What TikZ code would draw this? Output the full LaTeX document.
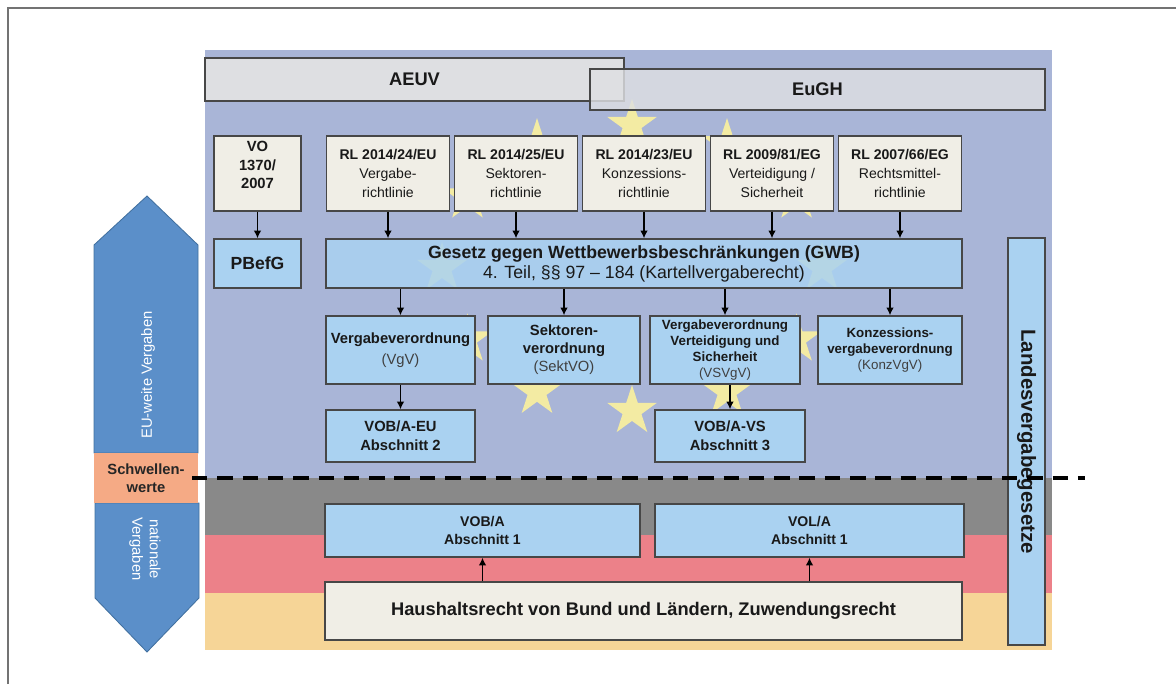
\documentclass[tikz,border=0pt]{standalone}
\usepackage{fontspec}
\setmainfont{Liberation Sans}
\setsansfont{Liberation Sans}
\usetikzlibrary{shapes,arrows.meta,positioning,calc}

\definecolor{euband}{HTML}{A9B5D7}
\definecolor{grayband}{HTML}{898989}
\definecolor{redband}{HTML}{EC8189}
\definecolor{goldband}{HTML}{F6D597}
\definecolor{starcol}{HTML}{F3EBA3}
\definecolor{boxblue}{HTML}{AAD2F1}
\definecolor{boxcream}{HTML}{F0EEE6}
\definecolor{boxgray}{HTML}{DEDFE2}
\definecolor{chevblue}{HTML}{5B8FC9}
\definecolor{chevdark}{HTML}{41709F}
\definecolor{schwcol}{HTML}{F5AA85}

\begin{document}
\begin{tikzpicture}[
  x=0.025cm, y=-0.025cm,
  box/.style={
    draw=black!72, line width=1pt, rectangle, align=center,
    inner sep=1pt, text=black!90
  },
  topbox/.style={
    box, fill=boxgray, font=\fontsize{13}{15}\selectfont\bfseries
  },
  rlbox/.style={
    box, fill=boxcream, minimum width=3.075cm, minimum height=1.875cm,
    font=\fontsize{10}{13.5}\selectfont
  },
  lawbox/.style={
    box, fill=boxblue, minimum height=1.7cm
  },
  vobbox/.style={
    box, fill=boxblue, minimum height=1.3cm,
    font=\fontsize{10.5}{13.5}\selectfont\bfseries
  },
  eustar/.style={
    star, star points=5, star point ratio=2.618, fill=starcol,
    minimum size=1.3cm, inner sep=0pt
  },
  chev/.style={fill=chevblue, draw=chevdark, line width=0.6pt},
  arr/.style={-{Latex[length=5.5pt,width=5.5pt]}, line width=1.1pt, black},
  sub/.style={text=black!75}
]

\useasboundingbox (0,0) rectangle (1176,684);
\draw[black!55, line width=1.2pt] (8,684) -- (8,8) -- (1176,8);

% Flag bands
\fill[euband]   (205,50)  rectangle (1052,478);
\fill[grayband] (205,478) rectangle (1052,535);
\fill[redband]  (205,535) rectangle (1052,593);
\fill[goldband] (205,593) rectangle (1052,650);

% Ring of stars
\foreach \a in {0,30,...,330} {
  \node[eustar] (s\a) at ({632+190*cos(\a)},{268-143*sin(\a)}) {};
}

% Primary law
\node[topbox, minimum width=10.475cm, minimum height=1.075cm] (aeuv) at (414.5,79.5) {AEUV};
\node[topbox, minimum width=11.375cm, minimum height=1.025cm, fill opacity=0.82, text opacity=1] (eugh) at (817.5,89.5) {EuGH};

% Directives
\node[box, fill=boxcream, minimum width=2.175cm, minimum height=1.875cm, text depth=12pt,
  font=\fontsize{10.5}{13}\selectfont\bfseries] (vo) at (257.5,173.5) {VO\\1370/\\2007};
\node[rlbox] (rl1) at (388,173.5) {\textbf{RL 2014/24/EU}\\Vergabe-\\richtlinie};
\node[rlbox] (rl2) at (516,173.5) {\textbf{RL 2014/25/EU}\\Sektoren-\\richtlinie};
\node[rlbox] (rl3) at (644,173.5) {\textbf{RL 2014/23/EU}\\Konzessions-\\richtlinie};
\node[rlbox] (rl4) at (772,173.5) {\textbf{RL 2009/81/EG}\\Verteidigung /\\Sicherheit};
\node[rlbox] (rl5) at (900,173.5) {\textbf{RL 2007/66/EG}\\Rechtsmittel-\\richtlinie};

% Acts
\node[box, fill=boxblue, minimum width=2.175cm, minimum height=1.225cm,
  font=\fontsize{12.5}{14}\selectfont\bfseries] (pbefg) at (257.5,263.5) {PBefG};
\node[box, fill=boxblue, fill opacity=0.86, text opacity=1, minimum width=15.9cm, minimum height=1.225cm,
  font=\fontsize{12.6}{14.2}\selectfont] (gwb) at (644,263.5)
  {\textbf{Gesetz gegen Wettbewerbsbeschränkungen (GWB)}\\4. Teil, §§ 97 -- 184 (Kartellvergaberecht)};

% Ordinances
\node[lawbox, minimum width=3.725cm, font=\fontsize{10.5}{13.5}\selectfont] (vgv) at (400.5,350)
  {\textbf{Vergabeverordnung}\\[1pt]\textcolor{black!75}{(VgV)}};
\node[lawbox, minimum width=3.8cm, font=\fontsize{10.5}{12.8}\selectfont] (sekt) at (564,350)
  {\textbf{Sektoren-}\\\textbf{verordnung}\\\textcolor{black!75}{(SektVO)}};
\node[lawbox, minimum width=3.75cm, inner sep=0pt, font=\fontsize{9.5}{11.3}\selectfont] (vsvgv) at (725,350)
  {\textbf{Vergabeverordnung}\\\textbf{Verteidigung und}\\\textbf{Sicherheit}\\\textcolor{black!75}{(VSVgV)}};
\node[lawbox, minimum width=3.6cm, font=\fontsize{9.5}{11.3}\selectfont] (konz) at (890,350)
  {\textbf{Konzessions-}\\\textbf{vergabeverordnung}\\\textcolor{black!75}{(KonzVgV)}};

% Procurement rules
\node[vobbox, minimum width=3.725cm] (vobeu) at (400.5,436) {VOB/A-EU\\Abschnitt 2};
\node[vobbox, minimum width=3.75cm] (vobvs) at (730,436) {VOB/A-VS\\Abschnitt 3};
\node[vobbox, minimum width=7.875cm, minimum height=1.325cm,
  font=\fontsize{10}{12.8}\selectfont\bfseries] (voba) at (482.5,530.5) {VOB/A\\Abschnitt 1};
\node[vobbox, minimum width=7.725cm, minimum height=1.325cm,
  font=\fontsize{10}{12.8}\selectfont\bfseries] (vola) at (809.5,530.5) {VOL/A\\Abschnitt 1};
\node[box, fill=boxcream, minimum width=15.925cm, minimum height=1.45cm,
  font=\fontsize{13}{15}\selectfont\bfseries] (haus) at (643.5,611)
  {Haushaltsrecht von Bund und Ländern, Zuwendungsrecht};

% State law
\node[box, fill=boxblue, rotate=-90, minimum width=10.175cm, minimum height=0.925cm,
  font=\fontsize{14.5}{16}\selectfont\bfseries] (landes) at (1026.5,441.5) {Landesvergabegesetze};

% Arrows
\draw[arr] (vo) -- (pbefg);
\foreach \i in {1,...,5} {
  \draw[arr] (rl\i) -- (rl\i |- gwb.north);
}
\foreach \n in {vgv,sekt,vsvgv,konz} {
  \draw[arr] (gwb.south -| \n) -- (\n.north);
}
\draw[arr] (vgv) -- (vobeu);
\draw[arr] (vsvgv.south -| vobvs) -- (vobvs.north);
\draw[arr] (haus.north -| voba) -- (voba.south);
\draw[arr] (haus.north -| vola) -- (vola.south);

% Side arrows
\path[chev] (94,453) -- (94,245) -- (147,196) -- (198,245) -- (198,453) -- cycle;
\path[chev] (95,503) -- (199,503) -- (199,598) -- (147,652) -- (95,598) -- cycle;
\node[fill=schwcol, minimum width=2.6cm, minimum height=1.25cm, inner sep=0pt, align=center,
  text=black!85, font=\fontsize{10.5}{12.5}\selectfont\bfseries] (schw) at (146,478) {Schwellen-\\werte};
\node[rotate=90, text=white, font=\fontsize{10.5}{12.5}\selectfont] (euweit) at (148,375) {EU-weite Vergaben};
\node[rotate=-90, text=white, align=center, font=\fontsize{10.5}{12.5}\selectfont] (natvg) at (145,549) {nationale\\Vergaben};

% Threshold line
\coordinate (dashL) at (192,478);
\coordinate (dashR) at (1085,478);
\draw[black, line width=2.4pt, dash pattern=on 11pt off 7pt] (dashL) -- (dashR);

\end{tikzpicture}
\end{document}
